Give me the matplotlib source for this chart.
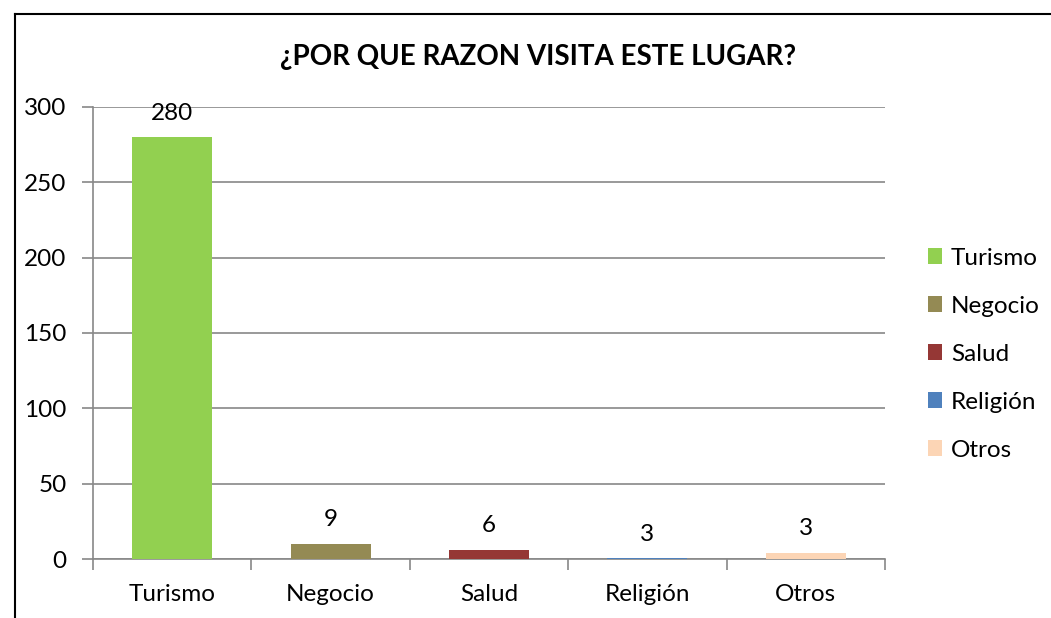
import matplotlib.pyplot as plt
from matplotlib.lines import Line2D
from matplotlib.patches import Patch

categories = ["Turismo", "Negocio", "Salud", "Religión", "Otros"]
bar_heights = [280, 10, 6, 0.6, 4]
label_texts = ["280", "9", "6", "3", "3"]
colors = ["#92D050", "#948A54", "#953735", "#4F81BD", "#FCD5B5"]

W, H = 1051, 618
plt.rcParams["font.family"] = ["Lato", "DejaVu Sans"]
FS = 17.5

fig = plt.figure(figsize=(W / 100, H / 100), dpi=100)
# axes box in pixels: left 93, right 885, top 107, bottom 559
ax = fig.add_axes([93 / W, 1 - 559 / H, (885 - 93) / W, (559 - 107) / H])

x = range(len(categories))
ax.bar(x, bar_heights, width=0.505, color=colors, zorder=3)

for i, (h, t) in enumerate(zip(bar_heights, label_texts)):
    ax.text(i, h + 9, t, ha="center", va="bottom", fontsize=FS, color="black")

ax.set_xlim(-0.5, len(categories) - 0.5)
ax.set_ylim(0, 300)
ax.set_yticks(range(0, 301, 50))
ax.yaxis.grid(True, color="#888888", linewidth=1.2, zorder=0)

ax.set_xticks([i - 0.5 for i in range(len(categories) + 1)])
ax.set_xticklabels([])
ax.set_xticks(list(x), minor=True)
ax.set_xticklabels(categories, minor=True, fontsize=FS)
ax.tick_params(axis="x", which="minor", length=0, pad=18)
ax.tick_params(axis="x", which="major", length=8, width=1.2, color="#888888", direction="out")
ax.tick_params(axis="y", length=8, width=1.2, color="#888888", labelsize=FS, pad=11)

for s in ["top", "right"]:
    ax.spines[s].set_visible(False)
for s in ["left", "bottom"]:
    ax.spines[s].set_color("#888888")
    ax.spines[s].set_linewidth(1.2)

handles = [Patch(facecolor=c, edgecolor="none") for c in colors]
fig.legend(handles, categories, loc="upper left", bbox_to_anchor=(918 / W, 1 - 238 / H),
           frameon=False, fontsize=FS, handlelength=0.6, handleheight=0.6,
           handletextpad=0.35, labelspacing=1.11, borderaxespad=0)

fig.text(538 / W, 1 - 57 / H, "¿POR QUE RAZON VISITA ESTE LUGAR?", ha="center", va="center",
         fontsize=20, fontweight="bold")

# outer chart frame (cropped at right and bottom)
fig.add_artist(Line2D([15 / W, 15 / W], [0, 1 - 14 / H], color="black", linewidth=1.5))
fig.add_artist(Line2D([15 / W, 1], [1 - 14 / H, 1 - 14 / H], color="black", linewidth=1.5))

fig.savefig("out.png", dpi=100)
